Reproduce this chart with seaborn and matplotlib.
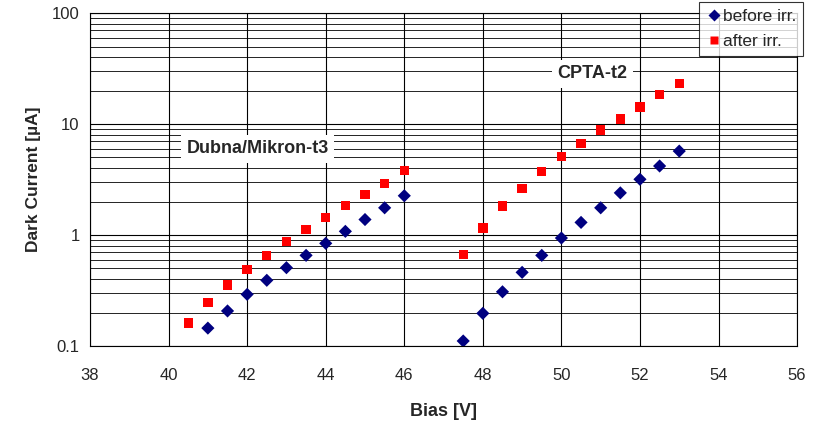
import numpy as np
import pandas as pd
import matplotlib
matplotlib.use("Agg")
import matplotlib.pyplot as plt
import matplotlib.ticker as mticker
import seaborn as sns

# Dubna/Mikron-t3
dubna_bias_before = [41, 41.5, 42, 42.5, 43, 43.5, 44, 44.5, 45, 45.5, 46]
dubna_before = [0.145, 0.207, 0.292, 0.391, 0.508, 0.656, 0.842, 1.08, 1.38, 1.76, 2.26]
dubna_bias_after = [40.5, 41, 41.5, 42, 42.5, 43, 43.5, 44, 44.5, 45, 45.5, 46]
dubna_after = [0.161, 0.248, 0.355, 0.487, 0.656, 0.877, 1.125, 1.44, 1.84, 2.31, 2.92, 3.80]

# CPTA-t2
cpta_bias = [47.5, 48, 48.5, 49, 49.5, 50, 50.5, 51, 51.5, 52, 52.5, 53]
cpta_before = [0.111, 0.197, 0.308, 0.461, 0.656, 0.94, 1.30, 1.76, 2.40, 3.18, 4.19, 5.71]
cpta_after = [0.665, 1.16, 1.83, 2.61, 3.75, 5.08, 6.70, 8.83, 11.1, 14.3, 18.4, 23.3]

series_labels = ["before irr.", "after irr."]
x_ticks = list(range(38, 57, 2))
y_ticks = [0.1, 1, 10, 100]

rows = []
for x, y in zip(dubna_bias_before + cpta_bias, dubna_before + cpta_before):
    rows.append({"Bias": x, "Current": y, "state": series_labels[0]})
for x, y in zip(dubna_bias_after + cpta_bias, dubna_after + cpta_after):
    rows.append({"Bias": x, "Current": y, "state": series_labels[1]})
df = pd.DataFrame(rows)

sns.set_style("white")
plt.rcParams["font.family"] = ["Liberation Sans", "DejaVu Sans"]

fig = plt.figure(figsize=(8.26, 4.23), dpi=100)
ax = fig.add_axes([0.109, 0.182, 0.856, 0.787])

ax.set_yscale("log")
ax.set_xlim(38, 56)
ax.set_ylim(0.1, 100)

# grid like Excel: vertical every 2 V, horizontal major + minor
ax.set_xticks(x_ticks)
ax.yaxis.set_major_locator(mticker.FixedLocator(y_ticks))
ax.yaxis.set_minor_locator(mticker.LogLocator(base=10, subs=np.arange(2, 10)))
ax.yaxis.set_minor_formatter(mticker.NullFormatter())
ax.yaxis.set_major_formatter(mticker.FuncFormatter(lambda v, p: f"{v:g}"))
ax.grid(True, which="major", axis="both", color="black", linewidth=0.8)
ax.grid(True, which="minor", axis="y", color="black", linewidth=0.6)
ax.set_axisbelow(True)

sns.scatterplot(data=df, x="Bias", y="Current", hue="state", style="state",
                palette={"before irr.": "#000080", "after irr.": "#ff0000"},
                markers={"before irr.": "D", "after irr.": "s"},
                s=45, edgecolor="none", ax=ax, zorder=3)

ax.tick_params(axis="both", which="major", direction="inout", length=8,
               width=0.8, labelsize=12, color="black")
ax.tick_params(axis="y", which="minor", direction="out", length=4, width=0.6)
ax.tick_params(axis="x", pad=12)
for s in ax.spines.values():
    s.set_color("black")
    s.set_linewidth(0.8)

ax.set_xlabel("Bias [V]", fontsize=13, fontweight="bold", labelpad=14)
ax.set_ylabel("Dark Current [µA]", fontsize=12.5, fontweight="bold", labelpad=8)

ax.text(40.45, 6.0, "Dubna/Mikron-t3", fontsize=13, fontweight="bold",
        va="center", ha="left", zorder=4,
        bbox=dict(facecolor="white", edgecolor="none", pad=4))
ax.text(49.9, 28.5, "CPTA-t2", fontsize=13, fontweight="bold",
        va="center", ha="left", zorder=4,
        bbox=dict(facecolor="white", edgecolor="none", pad=4))

leg = ax.legend(loc="upper right", bbox_to_anchor=(1.009, 1.033), frameon=True,
                fancybox=False, fontsize=12.5, handletextpad=0.1,
                borderpad=0.4, labelspacing=0.55, handlelength=0.9,
                borderaxespad=0, markerscale=0.85, title=None)
leg.get_frame().set_edgecolor("black")
leg.get_frame().set_linewidth(0.8)
leg.set_zorder(5)

fig.savefig("out.png", dpi=100)
